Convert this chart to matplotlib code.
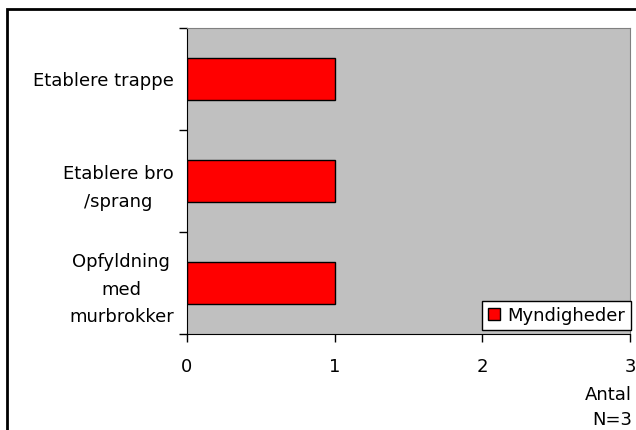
import numpy as np
import matplotlib.pyplot as plt
from matplotlib.patches import Rectangle

categories = ['Opfyldning\nmed\nmurbrokker', 'Etablere bro\n/sprang', 'Etablere trappe']
values = [1, 1, 1]
series = 'Myndigheder'

fig = plt.figure(figsize=(6.36, 4.30), dpi=100)
ax = fig.add_axes([187/636, 1-334/430, 443/636, 306/430])
ax.set_facecolor('#c0c0c0')

y = np.arange(len(categories))
ax.barh(y, values, height=0.41, color='#ff0000', edgecolor='black', linewidth=1, label=series)

ax.set_xlim(0, 3)
ax.set_ylim(-0.5, 2.5)
ax.set_xticks([0, 1, 2, 3])
ax.set_xticklabels(['0', '1', '2', '3'], fontsize=13)
ax.set_yticks([-0.5, 0.5, 1.5, 2.5])
ax.set_yticklabels([])
ax.set_yticks(y, minor=True)
ax.set_yticklabels(categories, minor=True, fontsize=13, ha='right',
                   multialignment='center', linespacing=1.68)
ax.tick_params(axis='y', which='minor', length=0, pad=9.5)
ax.tick_params(axis='both', which='major', length=6, width=1, direction='out')
ax.tick_params(axis='x', pad=11)

for s in ['top', 'right']:
    ax.spines[s].set_color('#808080')
for s in ['left', 'bottom']:
    ax.spines[s].set_color('black')

leg = ax.legend(loc='lower right', bbox_to_anchor=(631/636, 1-330/430),
                bbox_transform=fig.transFigure, fontsize=13, frameon=True, fancybox=False,
                borderpad=0.3, handlelength=0.65, handleheight=0.65, handletextpad=0.45,
                borderaxespad=0)
leg.get_frame().set_edgecolor('black')
leg.get_frame().set_facecolor('white')
leg.get_frame().set_alpha(1)

fig.text(632/636, 1-395/430, 'Antal', ha='right', va='center', fontsize=13)
fig.text(632/636, 1-420/430, 'N=3', ha='right', va='center', fontsize=13)

fig.patches.append(Rectangle((7/636, -0.1), 1.2, 1-9/430+0.1, transform=fig.transFigure,
                             fill=False, edgecolor='black', linewidth=2))

fig.savefig('out.png', dpi=100)
